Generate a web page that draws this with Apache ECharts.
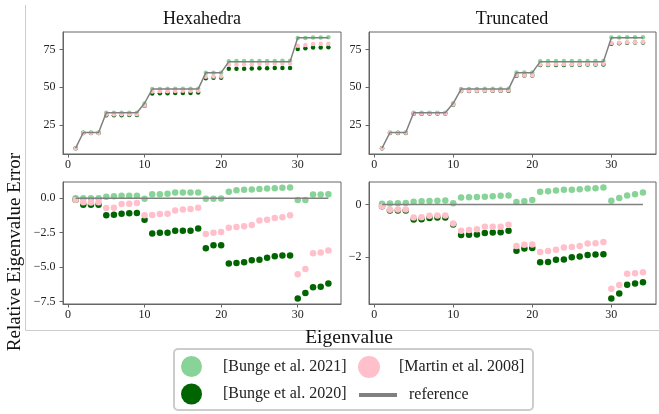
<!DOCTYPE html>
<html>
<head>
<meta charset="utf-8">
<script src="https://cdn.jsdelivr.net/npm/echarts@6/dist/echarts.min.js"></script>
<style>html,body{margin:0;padding:0;background:#fff}#chart{width:659px;height:414px}</style>
</head>
<body>
<div id="chart"></div>
<script>
// ---- data ----
const eigIndex = [1,2,3,4,5,6,7,8,9,10,11,12,13,14,15,16,17,18,19,20,21,22,23,24,25,26,27,28,29,30,31,32,33,34];
const xTicks = [0,10,20,30];
const topYTicks = [25,50,75];
const hexErrTicks = [0,-2.5,-5,-7.5];
const truErrTicks = [0,-2];
const panelTitles = ['Hexahedra','Truncated'];
const seriesNames = ['[Bunge et al. 2021]','[Bunge et al. 2020]','[Martin et al. 2008]','reference'];

const refValues = [9.87,20.19,20.19,20.19,33.22,33.22,33.22,33.22,33.22,39.48,48.83,48.83,48.83,48.83,48.83,48.83,48.83,59.68,59.68,59.68,66.95,66.95,66.95,66.95,66.95,66.95,66.95,66.95,66.95,82.72,82.72,82.72,82.72,82.72];
const refErr = [0,0,0,0,0,0,0,0,0,0,0,0,0,0,0,0,0,0,0,0,0,0,0,0,0,0,0,0,0,0,0,0,0,0];

const hexB21Val = [9.87,20.19,20.19,20.19,33.25,33.27,33.28,33.28,33.28,39.3,48.97,48.97,48.98,49.03,49.03,49.03,49.03,59.65,59.65,59.67,67.26,67.34,67.35,67.37,67.4,67.42,67.43,67.45,67.47,82.6,82.6,82.94,82.94,82.96];
const hexB20Val = [9.8,19.8,19.8,19.8,31.5,31.6,31.6,31.7,31.7,37.8,46.0,46.1,46.1,46.3,46.3,46.3,46.5,56.0,56.3,56.3,62.2,62.2,62.3,62.4,62.5,62.6,62.7,62.8,62.8,75.3,75.8,76.2,76.3,76.5];
const hexM08Val = [9.8,19.9,19.9,19.9,32.0,32.0,32.3,32.3,32.3,38.0,47.3,47.4,47.4,47.6,47.7,47.7,47.8,57.0,57.1,57.2,65.0,65.0,65.1,65.2,65.4,65.5,65.6,65.6,65.7,77.4,77.9,78.6,78.7,78.8];

const truB21Val = [9.87,20.2,20.2,20.2,33.26,33.26,33.27,33.27,33.27,39.5,48.96,48.97,48.97,48.98,48.99,49.0,49.0,59.74,59.76,59.79,67.28,67.29,67.31,67.33,67.33,67.34,67.36,67.36,67.39,82.84,82.93,83.01,83.04,83.1];
const truB20Val = [9.8,19.9,19.9,19.9,32.6,32.6,32.7,32.7,32.7,38.5,47.6,47.6,47.6,47.7,47.7,47.7,47.8,57.7,57.8,57.8,64.7,64.7,64.8,64.8,64.9,64.9,65.0,65.0,65.0,78.8,79.0,79.4,79.5,79.5];
const truM08Val = [9.8,20.0,20.0,20.0,32.8,32.8,32.9,32.9,32.9,38.6,47.8,47.8,47.8,47.9,47.9,47.9,48.0,57.9,58.0,58.0,65.1,65.1,65.2,65.3,65.3,65.3,65.4,65.4,65.5,79.2,79.4,79.8,79.8,79.9];

const hexB21Err = [0.0,0.0,0.0,0.0,0.1,0.14,0.17,0.17,0.17,-0.05,0.29,0.29,0.31,0.41,0.41,0.41,0.41,-0.05,-0.05,-0.02,0.46,0.58,0.6,0.63,0.67,0.7,0.72,0.75,0.77,-0.14,-0.14,0.26,0.26,0.29];
const hexB20Err = [-0.12,-0.48,-0.48,-0.48,-1.25,-1.2,-1.13,-1.1,-1.08,-1.56,-2.57,-2.52,-2.52,-2.36,-2.36,-2.36,-2.21,-3.63,-3.41,-3.41,-4.74,-4.71,-4.66,-4.5,-4.47,-4.33,-4.21,-4.16,-4.16,-7.28,-6.88,-6.47,-6.42,-6.2];
const hexM08Err = [-0.12,-0.29,-0.31,-0.29,-0.72,-0.7,-0.43,-0.41,-0.36,-1.25,-1.23,-1.15,-1.13,-0.89,-0.82,-0.79,-0.7,-2.6,-2.52,-2.45,-2.14,-2.09,-2.04,-1.95,-1.63,-1.56,-1.44,-1.39,-1.25,-5.53,-5.14,-3.99,-3.94,-3.8];

const truB21Err = [0.03,0.04,0.05,0.06,0.11,0.13,0.14,0.15,0.16,0.05,0.27,0.28,0.29,0.3,0.32,0.34,0.35,0.1,0.13,0.18,0.49,0.51,0.54,0.57,0.57,0.58,0.61,0.62,0.65,0.15,0.25,0.35,0.39,0.46];
const truB20Err = [-0.06,-0.22,-0.22,-0.22,-0.57,-0.56,-0.51,-0.49,-0.49,-0.76,-1.16,-1.15,-1.14,-1.08,-1.06,-1.05,-0.99,-1.75,-1.67,-1.65,-2.19,-2.18,-2.1,-2.09,-2.0,-1.97,-1.92,-1.9,-1.89,-3.57,-3.38,-3.05,-3.0,-2.95];
const truM08Err = [-0.06,-0.2,-0.19,-0.19,-0.49,-0.48,-0.42,-0.41,-0.41,-0.72,-0.99,-0.97,-0.94,-0.84,-0.84,-0.84,-0.77,-1.57,-1.53,-1.52,-1.8,-1.76,-1.72,-1.63,-1.61,-1.57,-1.48,-1.47,-1.42,-3.2,-3.06,-2.63,-2.61,-2.57];

// ---- styling ----
const FONT = 'Liberation Serif';
const C_B21 = '#88d498', C_B20 = '#006400', C_M08 = '#ffc0cb', C_REF = '#808080';
const SPINE = '#666';

const pairs = (ys) => eigIndex.map((x, i) => [x, ys[i]]);
const minusFmt = (d) => (v) => (v < 0 ? '\u2212' : '') + Math.abs(v).toFixed(d);

const grids = [
  {left: 63, top: 32, width: 278, height: 122},
  {left: 369, top: 32, width: 287, height: 122},
  {left: 63, top: 182, width: 278, height: 122},
  {left: 369, top: 182, width: 287, height: 122}
].map(g => Object.assign(g, {show: true, borderColor: SPINE, borderWidth: 1, backgroundColor: '#fff', containLabel: false}));

const baseAxis = {
  axisLine: {show: true, onZero: false, lineStyle: {color: SPINE, width: 1}},
  axisTick: {show: true, length: 3.5, lineStyle: {color: SPINE}},
  splitLine: {show: false},
  axisLabel: {fontFamily: FONT, fontSize: 12, color: '#222'}
};

const xAxes = [0,1,2,3].map(i => Object.assign({}, baseAxis, {
  type: 'value', gridIndex: i, min: -0.65, max: 35.65,
  axisTick: Object.assign({}, baseAxis.axisTick, {customValues: xTicks}),
  axisLabel: Object.assign({}, baseAxis.axisLabel, {customValues: xTicks, margin: 5})
}));

const yDefs = [
  {min: 6.0, max: 86.5, ticks: topYTicks, fmt: v => String(v)},
  {min: 6.0, max: 86.5, ticks: topYTicks, fmt: v => String(v)},
  {min: -7.68, max: 1.17, ticks: hexErrTicks, fmt: minusFmt(1)},
  {min: -3.78, max: 0.86, ticks: truErrTicks, fmt: minusFmt(0)}
];
const yAxes = yDefs.map((d, i) => Object.assign({}, baseAxis, {
  type: 'value', gridIndex: i, min: d.min, max: d.max,
  axisTick: Object.assign({}, baseAxis.axisTick, {customValues: d.ticks}),
  axisLabel: Object.assign({}, baseAxis.axisLabel, {customValues: d.ticks, margin: 7.5, formatter: d.fmt})
}));

function panelSeries(gi, b21, b20, m08, ref, size, lw) {
  const sc = (name, data, color) => ({
    type: 'scatter', name, xAxisIndex: gi, yAxisIndex: gi, data: pairs(data),
    symbol: 'circle', symbolSize: size, itemStyle: {color, opacity: 1}, silent: true
  });
  return [
    sc(seriesNames[0], b21, C_B21),
    sc(seriesNames[1], b20, C_B20),
    sc(seriesNames[2], m08, C_M08),
    {type: 'line', name: seriesNames[3], xAxisIndex: gi, yAxisIndex: gi, data: pairs(ref),
     showSymbol: false, symbol: 'none', lineStyle: {color: C_REF, width: lw}, itemStyle: {color: C_REF}, z: 3, silent: true}
  ];
}

const series = [].concat(
  panelSeries(0, hexB21Val, hexB20Val, hexM08Val, refValues, 4.5, 1.5),
  panelSeries(1, truB21Val, truB20Val, truM08Val, refValues, 4.5, 1.5),
  panelSeries(2, hexB21Err, hexB20Err, hexM08Err, refErr, 6.5, 1.5),
  panelSeries(3, truB21Err, truB20Err, truM08Err, refErr, 6.5, 1.5)
);

const legText = {fontFamily: FONT, fontSize: 16, color: '#222'};
const mkLegend = (name, left, top, w, h, icon, padL) => ({
  data: [name], left, top, padding: 0, itemWidth: w, itemHeight: h, icon,
  selectedMode: false, textStyle: Object.assign({}, legText, {padding: [0, 0, 0, padL]}), z: 10
});

const option = {
  animation: false,
  backgroundColor: '#fff',
  title: [
    {text: panelTitles[0], left: 202, top: 10, textAlign: 'center', padding: 0,
     textStyle: {fontFamily: FONT, fontSize: 18, fontWeight: 'normal', color: '#111'}},
    {text: panelTitles[1], left: 512, top: 10, textAlign: 'center', padding: 0,
     textStyle: {fontFamily: FONT, fontSize: 18, fontWeight: 'normal', color: '#111'}}
  ],
  grid: grids,
  xAxis: xAxes,
  yAxis: yAxes,
  series,
  legend: [
    mkLegend(seriesNames[0], 181, 356, 21, 21, 'circle', 16),
    mkLegend(seriesNames[2], 358, 356, 22, 22, 'circle', 14),
    mkLegend(seriesNames[1], 181, 383.5, 21, 21, 'circle', 16),
    mkLegend(seriesNames[3], 359, 387, 38, 4, 'rect', 7)
  ],
  graphic: [
    {type: 'line', shape: {x1: 25.5, y1: 5, x2: 25.5, y2: 330.5}, style: {stroke: '#cccccc', lineWidth: 1}, z: -1, silent: true},
    {type: 'line', shape: {x1: 25.5, y1: 330.5, x2: 659, y2: 330.5}, style: {stroke: '#cccccc', lineWidth: 1}, z: -1, silent: true},
    {type: 'rect', shape: {x: 174, y: 349, width: 359, height: 61, r: 4}, style: {fill: '#fff', stroke: '#cccccc', lineWidth: 2}, z: 0, silent: true},
    {type: 'text', x: 349, y: 338, style: {text: 'Eigenvalue', fontFamily: FONT, fontSize: 19.5, fill: '#111', textAlign: 'center', textVerticalAlign: 'middle'}, silent: true},
    {type: 'text', x: 15, y: 252, rotation: Math.PI / 2, style: {text: 'Relative Eigenvalue Error', fontFamily: FONT, fontSize: 19, fill: '#111', textAlign: 'center', textVerticalAlign: 'middle'}, silent: true}
  ]
};

const chart = echarts.init(document.getElementById('chart'), null, {renderer: 'canvas'});
chart.setOption(option);
</script>
</body>
</html>
